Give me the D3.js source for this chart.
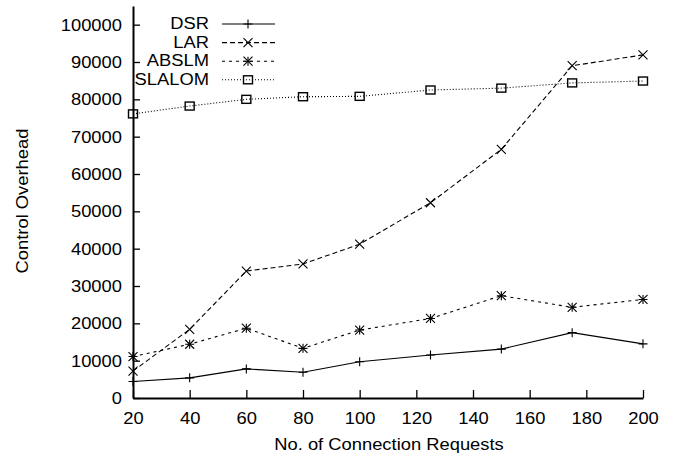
<!DOCTYPE html>
<html>
<head>
<meta charset="utf-8">
<script src="https://cdn.jsdelivr.net/npm/d3@7/dist/d3.min.js"></script>
<style>
	body { margin: 0; background: #fff; }
	svg { display: block; }
	text { font-family: "Liberation Sans", Arial, sans-serif; font-size: 17px; fill: #000; }
</style>
</head>
<body>
<svg class="chart" width="677" height="456"></svg>
<script>
// data
var requests = [20, 40, 60, 80, 100, 125, 150, 175, 200];
var dsr = [4400, 5400, 7800, 6900, 9700, 11500, 13100, 17500, 14500];
var lar = [7200, 18400, 34000, 35900, 41200, 52300, 66600, 89000, 91900];
var abslm = [11100, 14400, 18700, 13300, 18200, 21300, 27400, 24300, 26400];
var slalom = [76100, 78200, 80000, 80700, 80800, 82500, 83000, 84400, 84900];
var xTicks = [20, 40, 60, 80, 100, 120, 140, 160, 180, 200];
var yTicks = [0, 10000, 20000, 30000, 40000, 50000, 60000, 70000, 80000, 90000, 100000];
var seriesNames = ['DSR', 'LAR', 'ABSLM', 'SLALOM'];

var series = [
	{name: seriesNames[0], values: dsr, dash: null, marker: 'plus'},
	{name: seriesNames[1], values: lar, dash: '5,3', marker: 'cross'},
	{name: seriesNames[2], values: abslm, dash: '3,4', marker: 'star'},
	{name: seriesNames[3], values: slalom, dash: '1,2', marker: 'square'}
];

var stretch = 1.08; // the reference glyphs run a bit wide

var svg = d3.select('svg.chart');
var x = d3.scaleLinear().domain([20, 200]).range([133, 643]);
var y = d3.scaleLinear().domain([0, 105000]).range([398, 6]);

// axes
var xAxis = svg.append('g')
	.attr('transform', 'translate(0,398)')
	.call(d3.axisBottom(x).tickValues(xTicks).tickSize(-8).tickSizeOuter(0).tickPadding(14));
var yAxis = svg.append('g')
	.attr('transform', 'translate(133,0)')
	.call(d3.axisLeft(y).tickValues(yTicks).tickSize(-7).tickSizeOuter(0).tickPadding(10.2).tickFormat(d3.format('d')));

[xAxis, yAxis].forEach(function(ax) {
	ax.select('.domain').attr('stroke', '#000').attr('stroke-width', 2);
	ax.selectAll('.tick line').attr('stroke', '#000').attr('stroke-width', 1.3);
	ax.selectAll('.tick text')
		.style('font-family', '"Liberation Sans", Arial, sans-serif')
		.style('font-size', '17px')
		.attr('transform', 'scale(' + stretch + ',1)');
});

// axis titles and legend text
function label(tx, ty, str, anchor, rotate) {
	return svg.append('text')
		.attr('transform', 'translate(' + tx + ',' + ty + ')' + (rotate ? ' rotate(-90)' : '') +
			' scale(' + stretch + ',1)')
		.attr('text-anchor', anchor)
		.text(str);
}
label(389, 450, 'No. of Connection Requests', 'middle', false);
label(28, 201, 'Control Overhead', 'middle', true);

// markers
function drawMarker(g, type, cx, cy) {
	var s = 4.5;
	if (type === 'plus' || type === 'star') {
		g.append('path').attr('d', 'M' + (cx - s) + ',' + cy + 'H' + (cx + s) + 'M' + cx + ',' + (cy - s) + 'V' + (cy + s));
	}
	if (type === 'cross' || type === 'star') {
		g.append('path').attr('d', 'M' + (cx - s) + ',' + (cy - s) + 'L' + (cx + s) + ',' + (cy + s) +
			'M' + (cx - s) + ',' + (cy + s) + 'L' + (cx + s) + ',' + (cy - s));
	}
	if (type === 'square') {
		g.append('rect').attr('x', cx - s).attr('y', cy - 4).attr('width', 2 * s).attr('height', 8)
			.attr('fill', 'none').attr('stroke-width', 1.4);
	}
}

var line = d3.line()
	.x(function(d) { return x(d[0]); })
	.y(function(d) { return y(d[1]); });

series.forEach(function(s, i) {
	var g = svg.append('g').attr('stroke', '#000').attr('fill', 'none').attr('stroke-width', 1.1);
	var pts = _zip(requests, s.values);
	g.append('path')
		.attr('d', line(pts))
		.attr('stroke-dasharray', s.dash);
	pts.forEach(function(p) {
		drawMarker(g, s.marker, x(p[0]), y(p[1]));
	});

	// legend row
	var ly = 24 + i * 18.6;
	label(209, ly + 5, s.name, 'end', false);
	var lg = svg.append('g').attr('stroke', '#000').attr('fill', 'none').attr('stroke-width', 1.1);
	lg.append('path').attr('d', 'M222,' + ly + 'H275').attr('stroke-dasharray', s.dash);
	drawMarker(lg, s.marker, 248, ly);
});

function _zip(a, b) {
	return a.map(function(v, i) { return [v, b[i]]; });
}
</script>
</body>
</html>
